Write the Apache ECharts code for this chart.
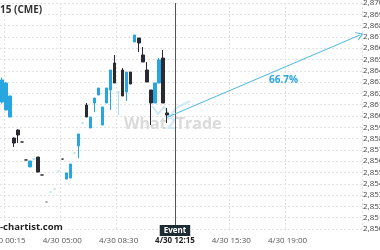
<!DOCTYPE html>
<html><head><meta charset="utf-8">
<script src="https://cdn.jsdelivr.net/npm/echarts@6/dist/echarts.min.js"></script>
<style>html,body{margin:0;padding:0;background:#fff}#c{width:380px;height:250px}</style>
</head><body><div id="c"></div>
<script>
// ---- data ----
const categoryCount = 90;
const categories = Array.from({length: categoryCount}, (_, i) => String(i));
const tickIndex = [1, 15, 29, 43, 57, 71];
const tickText = ['4/30 00:15', '4/30 05:00', '4/30 08:30', '4/30 12:15', '4/30 15:30', '4/30 19:00'];
const eventIndex = 43;
const opens  = [2861.24,2860.53,2859.91,2858.05,2858.76,2857.70,2856.11,2855.49,2856.19,2856.37,2854.78,2852.39,2853.27,2853.54,2855.13,2856.19,2854.42,2854.51,2856.73,2857.35,2859.38,2860.97,2858.94,2861.15,2861.86,2859.20,2861.15,2862.30,2864.69,2862.12,2864.07,2862.12,2863.89,2866.55,2866.90,2865.40,2864.07,2862.30,2861.15,2862.92,2865.13,2860.27];
const closes = [2863.19,2862.92,2861.77,2857.61,2858.32,2857.70,2856.11,2856.02,2856.19,2855.04,2854.78,2852.39,2853.27,2853.54,2855.13,2856.19,2854.96,2855.75,2856.73,2858.41,2859.38,2859.91,2859.91,2861.59,2862.48,2860.80,2862.48,2864.07,2862.92,2862.12,2861.77,2863.89,2862.83,2867.17,2866.46,2864.78,2863.01,2861.15,2862.92,2864.96,2861.15,2860.09];
const lows   = [2861.10,2860.50,2859.90,2857.26,2857.61,2857.70,2856.11,2855.49,2856.19,2855.04,2854.78,2852.39,2853.27,2853.54,2855.13,2856.19,2854.42,2854.51,2856.73,2856.28,2859.38,2859.91,2858.94,2860.35,2861.86,2859.20,2861.15,2860.53,2862.92,2860.09,2861.77,2861.33,2862.83,2866.55,2865.66,2864.78,2863.01,2859.20,2861.15,2862.92,2861.15,2859.38];
const highs  = [2863.40,2863.00,2861.80,2858.10,2858.80,2857.70,2856.11,2856.02,2856.19,2856.37,2854.78,2852.39,2853.27,2853.54,2855.13,2856.19,2854.96,2855.75,2856.73,2858.41,2859.38,2861.15,2859.91,2861.59,2862.48,2860.80,2862.48,2864.07,2865.40,2862.12,2864.25,2863.89,2863.89,2867.17,2866.90,2866.11,2864.78,2862.30,2862.92,2865.13,2865.84,2860.71];
const lightIdx = [8, 12, 13, 14, 18, 20, 29];
const grayIdx = [11];
const arrowStart = [41, 2859.88];
const arrowEnd = [89, 2867.17];
const arrowLabel = '66.7%';
const arrowLabelAt = [69.75, 2863.2];
const yMin = 2850, yMax = 2870, yStep = 1;

// ---- build ----
const UP = '#27a6df', DOWN = '#2a2a33', LIGHT = '#a9dbf1', GRAY = '#8a8a8a';
const candleData = opens.map((o, i) => {
  let c = null;
  if (lightIdx.includes(i)) c = LIGHT;
  else if (grayIdx.includes(i)) c = GRAY;
  else if (closes[i] > o) c = UP;
  else c = DOWN;
  return {value: [o, closes[i], lows[i], highs[i]],
    itemStyle: {color: c, color0: c, borderColor: c, borderColor0: c}};
});

const chart = echarts.init(document.getElementById('c'), null, {renderer: 'canvas'});
const F = "'Open Sans', 'Noto Sans', sans-serif";
chart.setOption({
  animation: false,
  backgroundColor: '#fff',
  grid: {left: 0, right: 18, top: 3, bottom: 21, containLabel: false, outerBoundsMode: 'none'},
  xAxis: {
    type: 'category', data: categories, boundaryGap: true,
    axisLine: {show: false}, axisTick: {show: false},
    axisLabel: {
      interval: (idx) => tickIndex.includes(idx),
      formatter: (v, idx) => {
        const k = tickIndex.indexOf(Number(v));
        if (k < 0) return '';
        return Number(v) === eventIndex ? '{b|' + tickText[k] + '}' : tickText[k];
      },
      color: '#555', fontSize: 8, fontFamily: F, margin: 8, hideOverlap: false,
      rich: {b: {fontWeight: 'bold', color: '#222', fontSize: 8, fontFamily: F}}
    },
    splitLine: {show: true, interval: (idx) => tickIndex.includes(idx) && idx !== eventIndex,
      lineStyle: {color: '#e2e2e2', type: [2, 2], width: 1}}
  },
  yAxis: {
    type: 'value', position: 'right', min: yMin, max: yMax, interval: yStep, scale: true,
    axisLine: {show: false}, axisTick: {show: false},
    axisLabel: {color: '#444', fontSize: 8, fontFamily: F, margin: 1, align: 'left', hideOverlap: false,
      formatter: (v) => '2,' + String(Math.round(v) - 2000).padStart(3, '0') + '.00'},
    splitLine: {lineStyle: {color: '#e2e2e2', type: [2, 2], width: 1}}
  },
  series: [
    {
      type: 'candlestick', data: candleData, barWidth: 3, z: 3,
      markLine: {
        silent: true, symbol: ['none', 'none'],
        lineStyle: {color: '#555', width: 1, type: 'solid'},
        label: {show: true, position: 'start', distance: -4, formatter: 'Event', color: '#fff', fontWeight: 'bold',
          fontSize: 8, fontFamily: F, backgroundColor: '#1c2c33', padding: [2, 4, 1, 4]},
        data: [{xAxis: eventIndex}]
      }
    },
    {
      type: 'line', data: [], z: 4,
      markLine: {
        silent: true, symbol: ['none', 'path://M0,10 L5,0 L10,10 L8.6,10 L5,2.8 L1.4,10 Z'], symbolSize: [9, 7],
        lineStyle: {color: '#4cb6e6', width: 1, type: 'solid'},
        label: {show: false},
        data: [[{coord: arrowStart}, {coord: arrowEnd}]]
      },
      markPoint: {
        silent: true, symbol: 'circle', symbolSize: 0,
        label: {show: true, position: 'inside', formatter: arrowLabel, color: '#27a6df', fontWeight: 'bold', fontSize: 10, fontFamily: F},
        data: [{coord: arrowLabelAt}]
      }
    }
  ],
  graphic: [
    {type: 'polyline', z: 1, silent: true, shape: {points: [[152,106],[158,114],[164,107],[170,116],[176,108],[190,101]]},
      style: {stroke: '#cfe9f6', lineWidth: 2, fill: null}},
    {type: 'text', z: 1, silent: true, left: 124, top: 116,
      style: {text: '{g|What}{b|2}{g|Trade}', rich: {
        g: {fill: '#dadada', fontSize: 16, fontWeight: 'bold', fontFamily: F},
        b: {fill: '#cfe9f6', fontSize: 16, fontWeight: 'bold', fontFamily: F}}}},
    {type: 'text', z: 10, silent: true, left: 0, top: 5,
      style: {text: '15 (CME)', fill: '#333', fontSize: 10, fontWeight: 'bold', fontFamily: F,
        backgroundColor: '#fff', padding: [0, 2, 0, 0]}},
    {type: 'text', z: 10, silent: true, left: 0, top: 222,
      style: {text: '-chartist.com', fill: '#222', fontSize: 9.5, fontWeight: 'bold', fontFamily: F,
        backgroundColor: '#fff', padding: [0, 2, 0, 0]}}
  ]
});
</script></body></html>
